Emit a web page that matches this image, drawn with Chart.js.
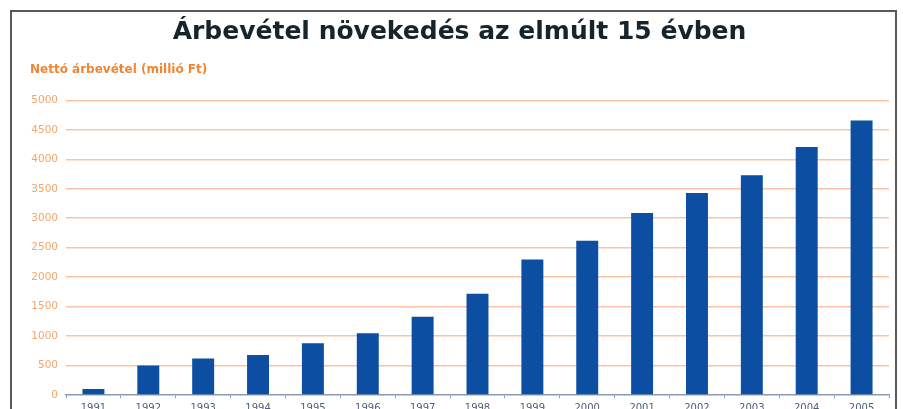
<!DOCTYPE html>
<html lang="hu">
<head>
<meta charset="utf-8">
<title>Árbevétel növekedés az elmúlt 15 évben</title>
<script src="https://cdn.jsdelivr.net/npm/chart.js@4/dist/chart.umd.min.js"></script>
<style>
    html, body { margin: 0; padding: 0; background: #fff; overflow: hidden; }
    .page { position: relative; width: 903px; height: 409px; overflow: hidden; }
    .frame {
        position: absolute; left: 10px; top: 10px; width: 883px; height: 420px;
        border: 2px solid #5a5a5a; pointer-events: none;
    }
    #chart { position: absolute; left: 0; top: 0; }
</style>
</head>
<body>
<div class="page">
    <canvas id="chart" width="903" height="418"></canvas>
    <div class="frame"></div>
</div>
<script>
// Nettó árbevétel, millió Ft
const years = ['1991', '1992', '1993', '1994', '1995', '1996', '1997', '1998',
               '1999', '2000', '2001', '2002', '2003', '2004', '2005'];
const revenue = [100, 500, 620, 680, 880, 1050, 1330, 1720,
                 2300, 2620, 3090, 3430, 3730, 4210, 4660];
const yTicks = [0, 500, 1000, 1500, 2000, 2500, 3000, 3500, 4000, 4500, 5000];

const titleText = 'Árbevétel növekedés az elmúlt 15 évben';
const axisLabel = 'Nettó árbevétel (millió Ft)';

const ctx = document.getElementById('chart');

new Chart(ctx, {
    type: 'bar',
    data: {
        labels: years,
        datasets: [{
            label: axisLabel,
            data: revenue,
            backgroundColor: '#0b4ea2',
            borderWidth: 0,
            categoryPercentage: 1,
            barPercentage: 0.4
        }]
    },
    options: {
        responsive: false,
        animation: false,
        layout: {
            padding: { left: 30, right: 14, top: 0, bottom: 0 }
        },
        plugins: {
            legend: { display: false },
            tooltip: { enabled: false },
            title: {
                display: true,
                text: titleText,
                color: '#17242c',
                font: { family: 'DejaVu Sans, sans-serif', size: 25, weight: 'bold' },
                padding: { top: 17, bottom: 8 }
            },
            subtitle: {
                display: true,
                text: axisLabel,
                align: 'start',
                color: '#f08535',
                font: { family: 'DejaVu Sans, sans-serif', size: 12, weight: 'bold' },
                padding: { top: 8, bottom: 23 }
            }
        },
        scales: {
            x: {
                grid: {
                    display: true,
                    drawOnChartArea: false,
                    tickLength: 3,
                    color: '#8a9ab0'
                },
                border: { display: true, color: '#8a9ab0', width: 1.5 },
                ticks: {
                    color: '#4f5f78',
                    font: { family: 'DejaVu Sans, sans-serif', size: 10 },
                    padding: 4,
                    maxRotation: 0
                }
            },
            y: {
                min: 0,
                max: 5000,
                afterBuildTicks: scale => {
                    scale.ticks = yTicks.map(v => ({ value: v }));
                },
                afterFit: scale => {
                    scale.width = 36;
                },
                grid: {
                    drawTicks: false,
                    lineWidth: 1.5,
                    color: c => c.tick.value === 0 ? 'rgba(0,0,0,0)' : '#f8c4a4'
                },
                border: { display: false },
                ticks: {
                    color: '#f4a56c',
                    font: { family: 'DejaVu Sans, sans-serif', size: 10.5 },
                    padding: 8,
                    callback: v => String(v)
                }
            }
        }
    }
});
</script>
</body>
</html>
